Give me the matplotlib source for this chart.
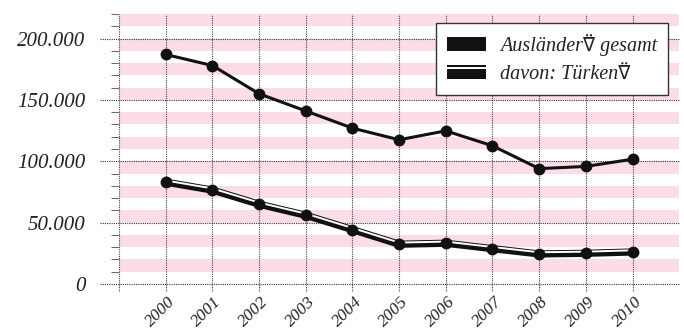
import matplotlib
matplotlib.use('Agg')
import matplotlib.pyplot as plt
from matplotlib.ticker import MultipleLocator, FuncFormatter
from matplotlib.transforms import ScaledTranslation
from matplotlib.patches import Rectangle
from matplotlib.legend_handler import HandlerBase

# ---------------------------------------------------------------------------
# Data
years = [2000, 2001, 2002, 2003, 2004, 2005, 2006, 2007, 2008, 2009, 2010]
auslaender_gesamt = [187000, 178000, 155000, 141000, 127000, 117500, 124800,
                     112600, 94000, 95800, 101700]
davon_tuerken = [83000, 76500, 65000, 56000, 44300, 32400, 33200,
                 28800, 24500, 25000, 26100]
label_gesamt = 'Ausländer⍢ gesamt'
label_tuerken = 'davon: Türken⍢'
# ---------------------------------------------------------------------------

PINK = '#fddcea'
INK = '#111111'
TXT = '#222222'
SERIF = ['Liberation Serif', 'DejaVu Sans', 'DejaVu Sans Mono']


class BarsHandler(HandlerBase):
    # Legend handle made of horizontal bars (fractions of handle height)
    def __init__(self, parts):
        super().__init__()
        self.parts = parts

    def create_artists(self, legend, orig_handle, xdescent, ydescent,
                       width, height, fontsize, trans):
        arts = []
        for a, b in self.parts:
            arts.append(Rectangle((-xdescent, -ydescent + a * height), width,
                                  (b - a) * height, facecolor=INK,
                                  edgecolor='none', transform=trans))
        return arts


fig = plt.figure(figsize=(6.84, 3.29), dpi=100)
ax = fig.add_axes([0.174, 0.1125, 0.819, 0.845])

ax.set_xlim(1999, 2011)
ax.set_ylim(-6500, 220000)

# Background stripes
for y0 in range(10000, 220000, 20000):
    ax.axhspan(y0, y0 + 10000, color=PINK, lw=0, zorder=0)

# Grid lines
for x in [1999] + years:
    ax.axvline(x, color='#444444', lw=0.8, ls=(0, (1, 1)), zorder=1)
for y in range(0, 200001, 50000):
    ax.axhline(y, xmin=-0.034, xmax=1, color='#333333', lw=0.8,
               ls=(0, (1, 1)), zorder=1, clip_on=False)

for s in ax.spines.values():
    s.set_visible(False)

# Series: total
ax.plot(years, auslaender_gesamt, color=INK, lw=2.2, marker='o', ms=7.5,
        zorder=4, solid_joinstyle='round')

# Series: Turkish (double line style)
ln_tr, = ax.plot(years, davon_tuerken, color=INK, lw=5.2, zorder=3,
                 solid_joinstyle='round')
off = ax.transData + ScaledTranslation(0, 1.2 / 72, fig.dpi_scale_trans)
ax.plot(years, davon_tuerken, color='white', lw=1.4, zorder=3.5,
        transform=off)
ax.plot(years, davon_tuerken, ls='none', marker='o', ms=7.5, color=INK,
        zorder=4)
ln_tot, = ax.plot([], [], color=INK)

# Axes ticks
ax.set_xticks(years)
ax.set_xticklabels([str(y) for y in years], rotation=45, ha='right',
                   va='center', rotation_mode='anchor', fontsize=12.5,
                   family=SERIF, style='italic', color=TXT)
ax.tick_params(axis='x', length=0, pad=3)
shift = ScaledTranslation(7 / 100, -3 / 100, fig.dpi_scale_trans)
for lab in ax.get_xticklabels():
    lab.set_transform(lab.get_transform() + shift)

ax.yaxis.set_major_locator(MultipleLocator(50000))
ax.yaxis.set_minor_locator(MultipleLocator(10000))
ax.yaxis.set_major_formatter(
    FuncFormatter(lambda v, p: f'{int(v):,}'.replace(',', '.')))
ax.tick_params(axis='y', which='major', length=0, pad=24, labelsize=15,
               labelcolor=TXT)
ax.tick_params(axis='y', which='minor', length=6, width=0.7, color='#666666')
for lab in ax.get_yticklabels():
    lab.set_family(SERIF)
    lab.set_style('italic')

# Legend
leg = ax.legend([ln_tot, ln_tr], [label_gesamt, label_tuerken],
                handler_map={ln_tot: BarsHandler([(0, 1)]),
                             ln_tr: BarsHandler([(0, 0.68), (0.84, 1)])},
                loc='upper right', bbox_to_anchor=(0.98, 0.968),
                borderaxespad=0,
                prop={'family': SERIF, 'style': 'italic', 'size': 14.5},
                handlelength=1.9, handleheight=0.7, handletextpad=0.7,
                labelspacing=0.45, borderpad=0.55, fancybox=False,
                framealpha=1, edgecolor='#333333')
leg.get_frame().set_linewidth(1.0)
for t in leg.get_texts():
    t.set_color(TXT)

fig.savefig('out.png', dpi=100)
